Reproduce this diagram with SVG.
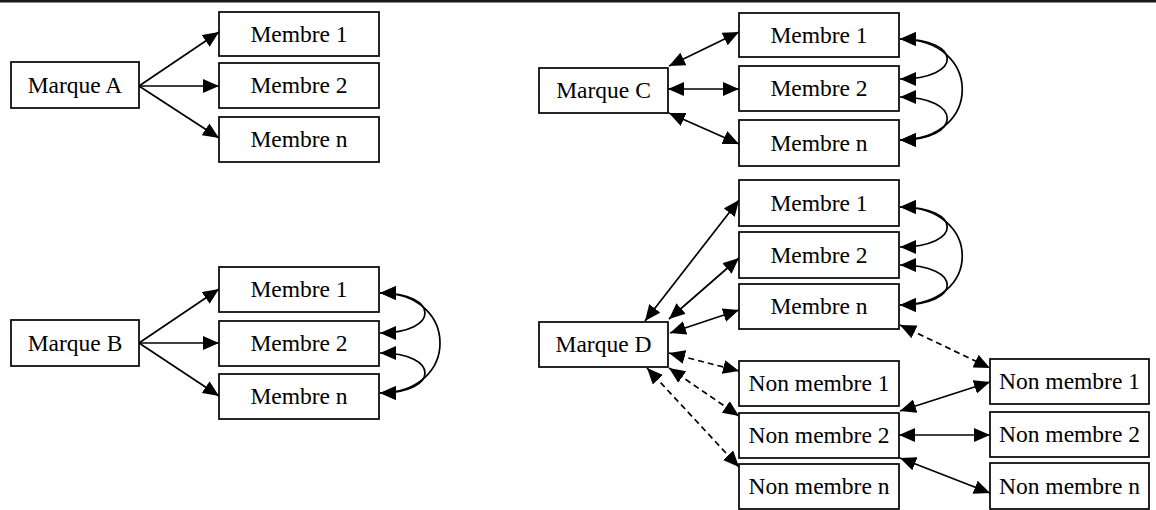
<svg xmlns="http://www.w3.org/2000/svg" width="1156" height="510" viewBox="0 0 1156 510">
<style>
.box{fill:#fff;stroke:#000;stroke-width:1.7}
.t{font-family:"Liberation Serif","Times New Roman",serif;font-size:23.5px;fill:#000;text-anchor:middle}
.c{fill:none;stroke:#000;stroke-width:1.7}
.e{marker-end:url(#ah)}
.b{marker-start:url(#ah);marker-end:url(#ah)}
.d{stroke-dasharray:6,4}
</style>
<defs>
<marker id="ah" markerUnits="userSpaceOnUse" markerWidth="16" markerHeight="14" viewBox="0 0 16 14" refX="16" refY="7" orient="auto-start-reverse">
<path d="M0,0 L16,7 L0,14 z" fill="#000"/>
</marker>
</defs>
<rect x="0" y="0" width="1156" height="2.5" fill="#1a1a1a"/>
<g id="connectors">
<line class="c e" x1="139" y1="86" x2="219" y2="32"/>
<line class="c e" x1="139" y1="86" x2="219" y2="86"/>
<line class="c e" x1="139" y1="86" x2="219" y2="138"/>
<line class="c e" x1="139" y1="343" x2="219" y2="289"/>
<line class="c e" x1="139" y1="343" x2="219" y2="343"/>
<line class="c e" x1="139" y1="343" x2="219" y2="396"/>
<path class="c b" d="M380,293 C440,293 440,333 380,333"/>
<path class="c b" d="M380,353 C440,353 440,393 380,393"/>
<path class="c b" d="M380,293 C460,293 460,393 380,393"/>
<line class="c b" x1="669" y1="66" x2="739" y2="32"/>
<line class="c b" x1="668" y1="89" x2="739" y2="89"/>
<line class="c b" x1="669" y1="113" x2="739" y2="144"/>
<path class="c b" d="M900,39 C963,39 963,79 900,79"/>
<path class="c b" d="M900,97 C963,97 963,140 900,140"/>
<path class="c b" d="M900,39 C983,39 983,140 900,140"/>
<line class="c b" x1="645" y1="321" x2="739" y2="200"/>
<line class="c b" x1="669" y1="319" x2="739" y2="258"/>
<line class="c b" x1="670" y1="333" x2="739" y2="310"/>
<path class="c b" d="M900,207 C963,207 963,247 900,247"/>
<path class="c b" d="M900,265 C963,265 963,305 900,305"/>
<path class="c b" d="M900,207 C983,207 983,305 900,305"/>
<line class="c b d" x1="669" y1="353" x2="739" y2="371"/>
<line class="c b d" x1="669" y1="368" x2="739" y2="416"/>
<line class="c b d" x1="647" y1="368" x2="739" y2="467"/>
<line class="c b d" x1="900" y1="325" x2="990" y2="368"/>
<line class="c b" x1="900" y1="411" x2="990" y2="382"/>
<line class="c b" x1="899" y1="435" x2="990" y2="435"/>
<line class="c b" x1="900" y1="458" x2="990" y2="493"/>
</g>
<g id="marqueA"><rect class="box" x="11" y="62" width="128" height="46"/><text class="t" x="75" y="93">Marque A</text></g>
<g id="a_m1"><rect class="box" x="219" y="12" width="160" height="44"/><text class="t" x="299" y="42">Membre 1</text></g>
<g id="a_m2"><rect class="box" x="219" y="63" width="160" height="45"/><text class="t" x="299" y="93">Membre 2</text></g>
<g id="a_mn"><rect class="box" x="219" y="117" width="160" height="45"/><text class="t" x="299" y="147">Membre n</text></g>
<g id="marqueB"><rect class="box" x="11" y="320" width="128" height="46"/><text class="t" x="75" y="351">Marque B</text></g>
<g id="b_m1"><rect class="box" x="219" y="267" width="160" height="45"/><text class="t" x="299" y="297">Membre 1</text></g>
<g id="b_m2"><rect class="box" x="219" y="321" width="160" height="45"/><text class="t" x="299" y="351">Membre 2</text></g>
<g id="b_mn"><rect class="box" x="219" y="374" width="160" height="45"/><text class="t" x="299" y="404">Membre n</text></g>
<g id="marqueC"><rect class="box" x="539" y="68" width="129" height="45"/><text class="t" x="603.5" y="98">Marque C</text></g>
<g id="c_m1"><rect class="box" x="739" y="13" width="160" height="44"/><text class="t" x="819" y="43">Membre 1</text></g>
<g id="c_m2"><rect class="box" x="739" y="66" width="160" height="45"/><text class="t" x="819" y="96">Membre 2</text></g>
<g id="c_mn"><rect class="box" x="739" y="120" width="160" height="46"/><text class="t" x="819" y="151">Membre n</text></g>
<g id="marqueD"><rect class="box" x="539" y="322" width="129" height="45"/><text class="t" x="603.5" y="352">Marque D</text></g>
<g id="d_m1"><rect class="box" x="739" y="180" width="160" height="46"/><text class="t" x="819" y="211">Membre 1</text></g>
<g id="d_m2"><rect class="box" x="739" y="232" width="160" height="46"/><text class="t" x="819" y="263">Membre 2</text></g>
<g id="d_mn"><rect class="box" x="739" y="284" width="160" height="45"/><text class="t" x="819" y="314">Membre n</text></g>
<g id="d_nm1"><rect class="box" x="739" y="361" width="160" height="45"/><text class="t" x="819" y="391">Non membre 1</text></g>
<g id="d_nm2"><rect class="box" x="739" y="413" width="160" height="45"/><text class="t" x="819" y="443">Non membre 2</text></g>
<g id="d_nmn"><rect class="box" x="739" y="464" width="160" height="45"/><text class="t" x="819" y="494">Non membre n</text></g>
<g id="r_nm1"><rect class="box" x="990" y="359" width="159" height="45"/><text class="t" x="1069.5" y="389">Non membre 1</text></g>
<g id="r_nm2"><rect class="box" x="990" y="412" width="159" height="45"/><text class="t" x="1069.5" y="442">Non membre 2</text></g>
<g id="r_nmn"><rect class="box" x="990" y="463" width="159" height="46"/><text class="t" x="1069.5" y="494">Non membre n</text></g>
</svg>
